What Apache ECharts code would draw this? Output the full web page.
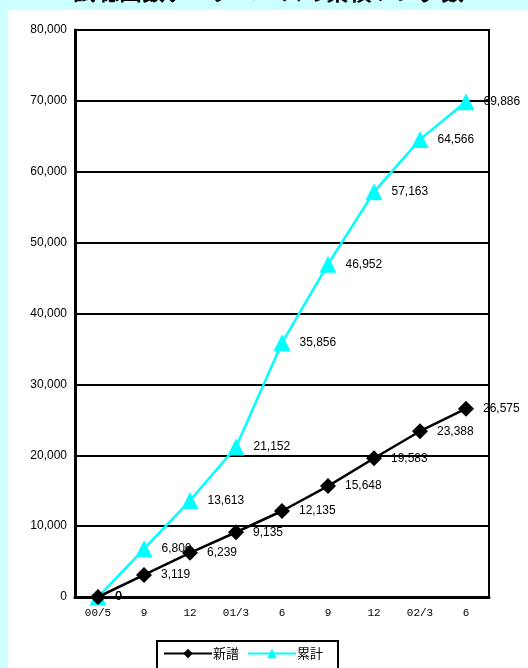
<!DOCTYPE html>
<html>
<head>
<meta charset="utf-8">
<script src="https://cdn.jsdelivr.net/npm/echarts@6/dist/echarts.min.js"></script>
<style>
  html, body { margin: 0; padding: 0; background: #ccffff; }
  #chart { width: 528px; height: 668px; }
</style>
</head>
<body>
<div id="chart"></div>
<script>
// x axis categories (year/month)
const months = ['00/5', '9', '12', '01/3', '6', '9', '12', '02/3', '6'];
// 新譜 per period
const newReleases = [0, 3119, 6239, 9135, 12135, 15648, 19583, 23388, 26575];
// 累計
const cumulative = [0, 6806, 13613, 21152, 35856, 46952, 57163, 64566, 69886];

const chart = echarts.init(document.getElementById('chart'));

const labelStyle = {
    show: true,
    position: 'right',
    distance: 9,
    color: '#000',
    fontFamily: 'Liberation Sans',
    fontSize: 12,
    formatter: (p) => p.value.toLocaleString('en-US')
};

const option = {
    backgroundColor: '#ccffff',
    animation: false,
    graphic: [
        {
            type: 'rect',
            z: -10,
            shape: { x: 8, y: 10, width: 520, height: 660 },
            style: { fill: '#ffffff' }
        }
    ],
    title: {
        text: '試聴曲数データベースの累積ソング数',
        left: 68,
        top: -25,
        textStyle: {
            fontFamily: 'Noto Sans CJK JP',
            fontSize: 23,
            fontWeight: 'bold',
            color: '#000'
        }
    },
    legend: {
        data: ['新譜', '累計'],
        left: 157,
        top: 641,
        padding: [6, 15, 30, 6],
        itemGap: 8,
        itemWidth: 48,
        itemHeight: 12,
        borderColor: '#000',
        borderWidth: 2,
        textStyle: { fontFamily: 'Noto Sans CJK JP', fontSize: 13, color: '#000', padding: [0, 0, 0, -4] }
    },
    grid: {
        left: 75,
        right: 39,
        top: 30,
        bottom: 71,
        show: true,
        borderColor: '#000',
        borderWidth: 2,
        backgroundColor: '#fff'
    },
    xAxis: {
        type: 'category',
        data: months,
        boundaryGap: true,
        axisLine: { lineStyle: { color: '#000', width: 3 } },
        axisTick: { inside: true, length: 5, lineStyle: { color: '#000', width: 2 } },
        axisLabel: {
            color: '#000',
            fontFamily: 'Liberation Mono',
            fontSize: 11,
            margin: 11
        }
    },
    yAxis: {
        type: 'value',
        min: 0,
        max: 80000,
        interval: 10000,
        axisLine: { show: true, lineStyle: { color: '#000', width: 3 } },
        axisTick: { show: false },
        axisLabel: {
            color: '#000',
            fontFamily: 'Liberation Sans',
            fontSize: 12,
            margin: 8,
            formatter: (v) => v.toLocaleString('en-US')
        },
        splitLine: { show: true, lineStyle: { color: '#000', width: 2 } }
    },
    series: [
        {
            name: '新譜',
            type: 'line',
            data: newReleases,
            symbol: 'diamond',
            symbolSize: 16,
            itemStyle: { color: '#000' },
            lineStyle: { color: '#000', width: 2.5 },
            label: labelStyle,
            z: 3
        },
        {
            name: '累計',
            type: 'line',
            data: cumulative,
            symbol: 'triangle',
            symbolSize: 17,
            itemStyle: { color: '#00ffff' },
            lineStyle: { color: '#00ffff', width: 2.5 },
            label: labelStyle,
            z: 2
        }
    ]
};

chart.setOption(option);
</script>
</body>
</html>
